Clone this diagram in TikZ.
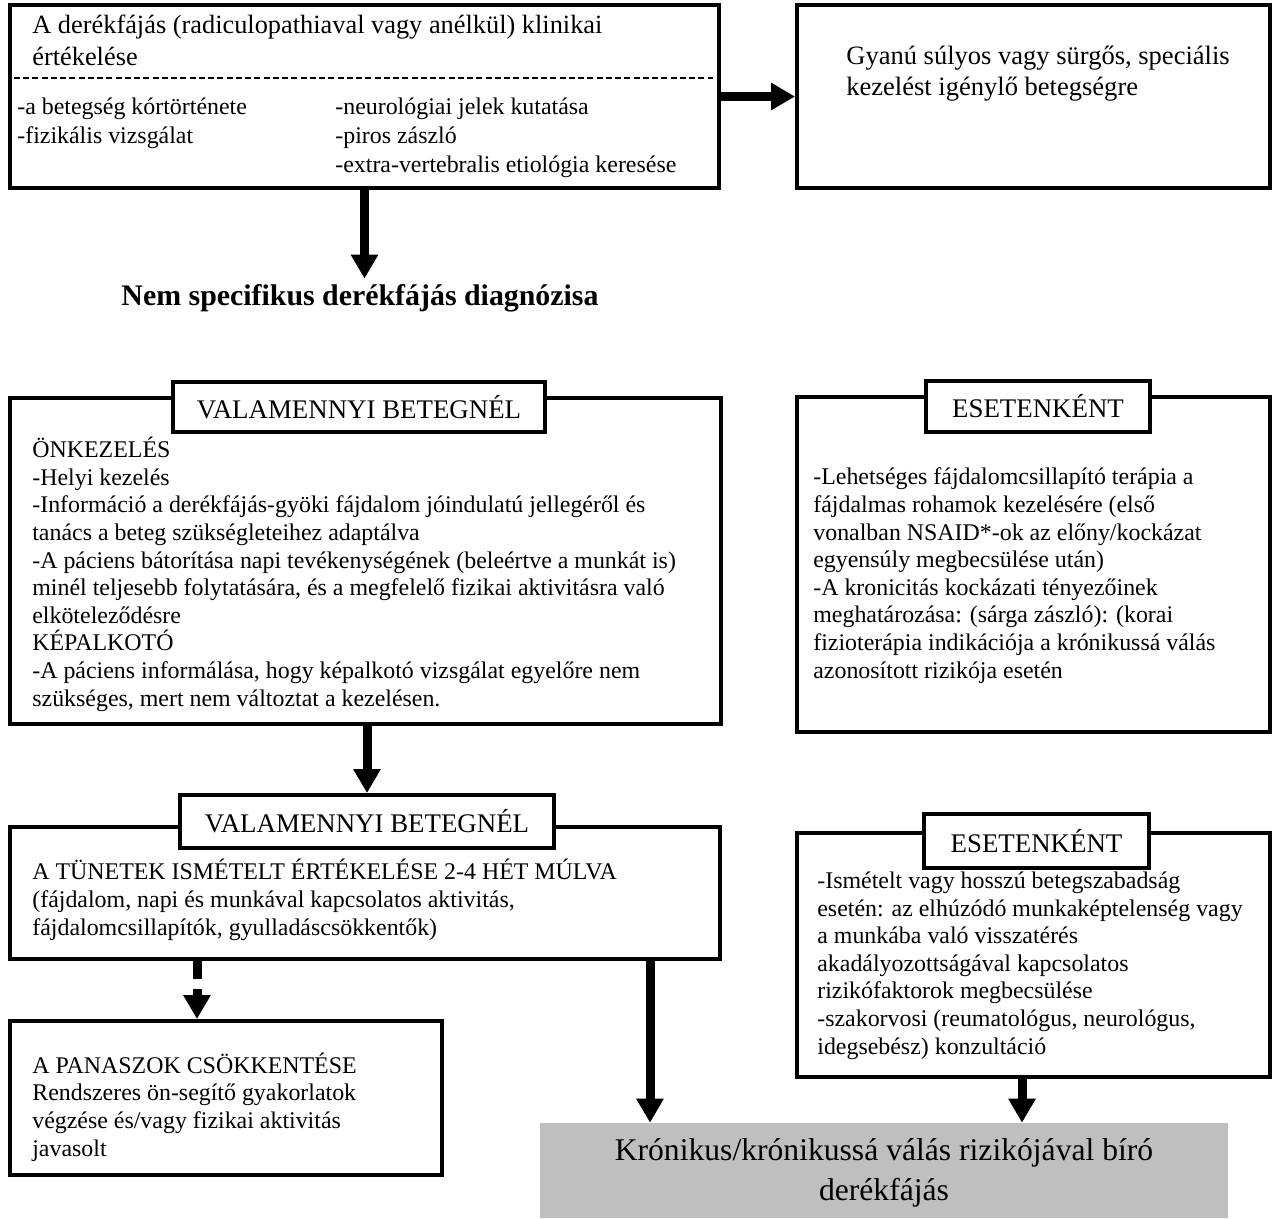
\documentclass[tikz,border=0pt]{standalone}
\usepackage{fontspec}
\setmainfont{Liberation Serif}
\usepackage{xcolor}
\usepackage{tikz}
\usetikzlibrary{calc,positioning,arrows.meta,fit}

\definecolor{chronicgray}{HTML}{BFBFBF}

\tikzset{
    box/.style={draw, line width=0.08cm, inner sep=0pt},
    tag/.style={draw, fill=white, line width=0.08cm, inner sep=0pt, font=\fontsize{15.3}{17}\selectfont},
    txt/.style={anchor=base west, inner sep=0pt, align=left, font=\fontsize{13.6}{15.7}\selectfont},
    sep/.style={line width=0.035cm, dash pattern=on 0.12cm off 0.065cm},
    arr/.style={line width=0.18cm, -{Triangle[length=0.48cm, width=0.52cm]}},
}

\begin{document}
\begin{tikzpicture}[x=0.02cm, y=-0.02cm]
    \useasboundingbox (0,0) rectangle (1277,1218);

    % clinical evaluation (text nodes sit on the baseline of their last line)
    \node [box, fit={(10,5) (719,188)}] (eval) {};
    \draw [sep] (14,78) -- (713,78);
    \node [txt, font=\fontsize{15}{18.2}\selectfont] (evalhead) at (32,65) {A derékfájás (radiculopathiaval vagy anélkül) klinikai\\értékelése};
    \node [txt, font=\fontsize{13.6}{16.5}\selectfont] (evalleft) at (17,143) {-a betegség kórtörténete\\-fizikális vizsgálat};
    \node [txt, font=\fontsize{13.6}{16.5}\selectfont] (evalright) at (335,172) {-neurológiai jelek kutatása\\-piros zászló\\-extra-vertebralis etiológia keresése};

    \node [box, fit={(797,5) (1270,188)}] (suspect) {};
    \node [txt, font=\fontsize{15.1}{17.6}\selectfont] (suspecttext) at (846,95) {Gyanú súlyos vagy sürgős, speciális\\kezelést igénylő betegségre};

    \node [anchor=base, inner sep=0.1cm, font=\bfseries\fontsize{17}{20}\selectfont] (diag) at (360,305) {Nem specifikus derékfájás diagnózisa};

    \draw [arr] (eval) -- (suspect);
    \draw [arr] (eval) -- (eval |- diag.north);

    % first step
    \node [box, fit={(10,398) (721,724)}] (allfirst) {};
    \node [tag, minimum width=7.44cm, minimum height=1cm] (allfirsttag) at (359,407) {VALAMENNYI BETEGNÉL};
    \node [txt] (allfirsttext) at (32,706) {ÖNKEZELÉS\\-Helyi kezelés\\-Információ a derékfájás-gyöki fájdalom jóindulatú jellegéről és\\tanács a beteg szükségleteihez adaptálva\\-A páciens bátorítása napi tevékenységének (beleértve a munkát is)\\minél teljesebb folytatására, és a megfelelő fizikai aktivitásra való\\elköteleződésre\\KÉPALKOTÓ\\-A páciens informálása, hogy képalkotó vizsgálat egyelőre nem\\szükséges, mert nem változtat a kezelésen.};

    \node [box, fit={(797,397) (1270,732)}] (casefirst) {};
    \node [tag, minimum width=4.48cm, minimum height=1.02cm] (casefirsttag) at (1038,406.5) {ESETENKÉNT};
    \node [txt] (casefirsttext) at (813,678) {-Lehetséges fájdalomcsillapító terápia a\\fájdalmas rohamok kezelésére (első\\vonalban NSAID*-ok az előny/kockázat\\egyensúly megbecsülése után)\\-A kronicitás kockázati tényezőinek\\meghatározása: (sárga zászló): (korai\\fizioterápia indikációja a krónikussá válás\\azonosított rizikója esetén};

    % second step
    \node [box, fit={(10,827) (720,959)}] (allsecond) {};
    \node [tag, minimum width=7.48cm, minimum height=1.06cm] (allsecondtag) at (367,821.5) {VALAMENNYI BETEGNÉL};
    \node [txt] (allsecondtext) at (32,935) {A TÜNETEK ISMÉTELT ÉRTÉKELÉSE 2-4 HÉT MÚLVA\\(fájdalom, napi és munkával kapcsolatos aktivitás,\\fájdalomcsillapítók, gyulladáscsökkentők)};

    \node [box, fit={(797,833) (1270,1077)}] (casesecond) {};
    \node [tag, minimum width=4.5cm, minimum height=1.08cm] (casesecondtag) at (1036.5,841) {ESETENKÉNT};
    \node [txt] (casesecondtext) at (817,1054) {-Ismételt vagy hosszú betegszabadság\\esetén: az elhúzódó munkaképtelenség vagy\\a munkába való visszatérés\\akadályozottságával kapcsolatos\\rizikófaktorok megbecsülése\\-szakorvosi (reumatológus, neurológus,\\idegsebész) konzultáció};

    \node [box, fit={(10,1021) (442,1175)}] (relief) {};
    \node [txt] (relieftext) at (32,1156) {A PANASZOK CSÖKKENTÉSE\\Rendszeres ön-segítő gyakorlatok\\végzése és/vagy fizikai aktivitás\\javasolt};

    \node [fill=chronicgray, inner sep=0pt, fit={(540,1123) (1228,1218)}] (chronic) {};
    \node [anchor=base, inner sep=0pt, align=center, font=\fontsize{18}{22.5}\selectfont] (chronictext) at (884,1200) {Krónikus/krónikussá válás rizikójával bíró\\derékfájás};

    \coordinate (dashx) at (197,990);
    \coordinate (leftx) at (650,1100);
    \coordinate (rightx) at (1022,1100);

    \draw [arr] (allfirst.south -| allsecondtag) -- (allsecondtag.north);
    \draw [arr, dash pattern=on 0.36cm off 0.2cm] (allsecond.south -| dashx) -- (relief.north -| dashx);
    \draw [arr] (allsecond.south -| leftx) -- (chronic.north -| leftx);
    \draw [arr] (casesecond.south -| rightx) -- (chronic.north -| rightx);

\end{tikzpicture}
\end{document}
